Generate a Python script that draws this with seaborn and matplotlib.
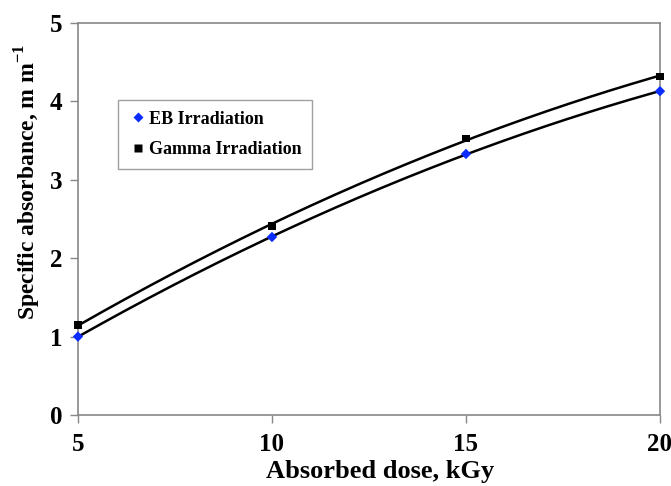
import numpy as np
import pandas as pd
import matplotlib
matplotlib.use("Agg")
import matplotlib.pyplot as plt
import seaborn as sns

dose = [5, 10, 15, 20]
eb_values = [1.00, 2.27, 3.33, 4.13]
gamma_values = [1.15, 2.41, 3.53, 4.32]
series_names = ["EB Irradiation", "Gamma Irradiation"]
x_ticks = [5, 10, 15, 20]
y_ticks = [0, 1, 2, 3, 4, 5]

sns.set_style("white", {"xtick.bottom": True, "ytick.left": True,
                        "text.color": "black", "xtick.color": "black",
                        "ytick.color": "black", "axes.labelcolor": "black"})
plt.rcParams['font.family'] = ['Liberation Serif', 'DejaVu Serif']
plt.rcParams['font.weight'] = 'bold'
plt.rcParams['mathtext.fontset'] = 'custom'
plt.rcParams['mathtext.rm'] = 'Liberation Serif:bold'
plt.rcParams['mathtext.bf'] = 'Liberation Serif:bold'

df = pd.DataFrame({
    "dose": dose * 2,
    "value": eb_values + gamma_values,
    "series": [series_names[0]] * 4 + [series_names[1]] * 4,
})

fig = plt.figure(figsize=(6.71, 4.86), dpi=100)
ax = fig.add_axes([0.1162, 0.1461, 0.8674, 0.8066])

# polynomial (2nd order) trendlines
xs = np.linspace(min(dose), max(dose), 200)
for vals in (eb_values, gamma_values):
    coef = np.polyfit(dose, vals, 2)
    sns.lineplot(x=xs, y=np.polyval(coef, xs), ax=ax, color="black", lw=1.8, legend=False)

sns.scatterplot(data=df, x="dose", y="value", hue="series", style="series",
                palette={series_names[0]: "#0a2cff", series_names[1]: "black"},
                markers={series_names[0]: "D", series_names[1]: "s"},
                s=28, edgecolor="none", ax=ax, zorder=5, clip_on=False)

ax.set_xlim(5, 20)
ax.set_ylim(0, 5)
ax.set_xticks(x_ticks)
ax.set_yticks(y_ticks)
ax.tick_params(axis="both", direction="out", length=6, width=1, color="#888888",
               labelcolor="black", labelsize=18)
ax.tick_params(axis="x", pad=7)
ax.tick_params(axis="y", pad=5)
for lab in ax.get_xticklabels() + ax.get_yticklabels():
    lab.set_fontweight("bold")
for sp in ax.spines.values():
    sp.set_color("#888888")
    sp.set_linewidth(1.2)

ax.set_xlabel("Absorbed dose, kGy", fontsize=19, fontweight="bold")
ax.xaxis.set_label_coords(0.52, -0.115)
ax.xaxis.label.set_va("top")
ax.set_ylabel("Specific absorbance, m m$^{\\mathbf{-1}}$", fontsize=17, fontweight="bold")
ax.yaxis.set_label_coords(-0.06, 0.594)

h, l = ax.get_legend_handles_labels()
leg = ax.legend(h, l, loc="upper left", bbox_to_anchor=(0.069, 0.804), frameon=True,
                fancybox=False, edgecolor="#888888", fontsize=13, handletextpad=0.1,
                markerscale=1.0, borderpad=0.6, labelspacing=0.75, handlelength=1.0,
                borderaxespad=0)
leg.get_frame().set_linewidth(1.0)
for t in leg.get_texts():
    t.set_fontweight("bold")

fig.savefig("out.png", dpi=100)
